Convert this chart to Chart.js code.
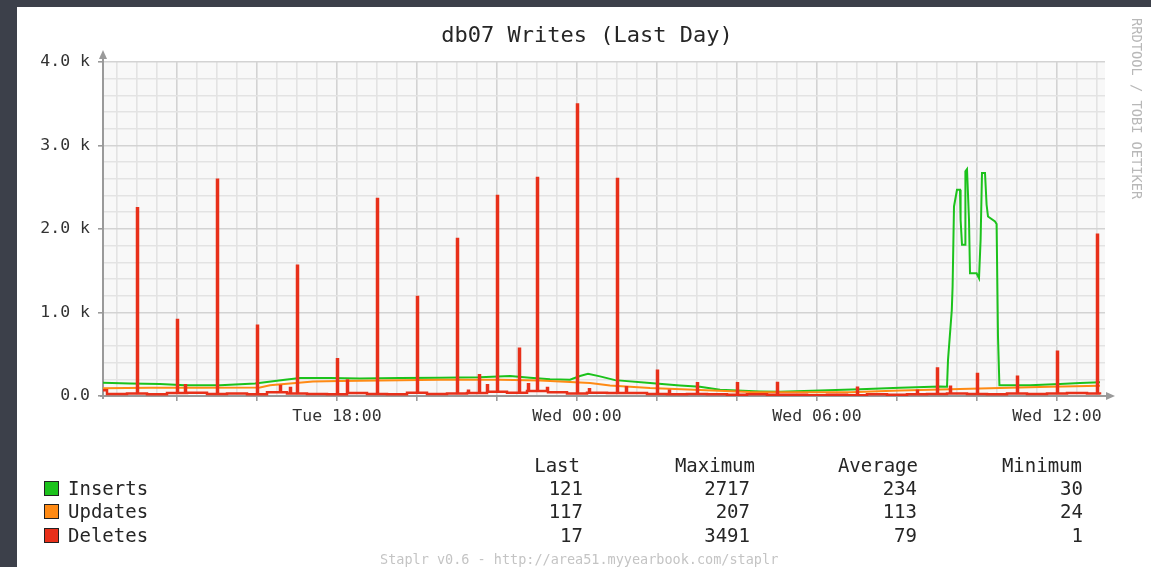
<!DOCTYPE html>
<html>
<head>
<meta charset="utf-8">
<script src="https://cdn.jsdelivr.net/npm/chart.js@4.4.1/dist/chart.umd.min.js"></script>
<style>
  html, body { margin: 0; padding: 0; width: 1151px; height: 567px; overflow: hidden; background: #3c404a; font-family: "DejaVu Sans Mono", monospace; }
  #panel { position: absolute; left: 17px; top: 7px; width: 1134px; height: 560px; background: #ffffff; }
  #chart { position: absolute; left: 0; top: 0; }
  .t { position: absolute; white-space: pre; color: #262626; font-family: "DejaVu Sans Mono", monospace; }
  #title { left: 0; top: 14px; width: 1140px; text-align: center; font-size: 22px; line-height: 28px; }
  .leg { font-size: 19px; line-height: 23px; }
  .r { text-align: right; }
  .sw { position: absolute; width: 13px; height: 13px; border: 1px solid #222; }
  #foot { left: 363px; top: 544px; font-size: 13.5px; line-height: 16px; color: #c4c4c4; }
  #wm { left: 1113px; top: 11px; font-size: 13.7px; line-height: 14px; color: #b8b8b8; writing-mode: vertical-rl; }
</style>
</head>
<body>
<div id="panel">
  <canvas id="chart" width="1134" height="560"></canvas>
  <div id="title" class="t">db07 Writes (Last Day)</div>
  <div id="legend"></div>
  <div id="foot" class="t">Staplr v0.6 - http://area51.myyearbook.com/staplr</div>
  <div id="wm" class="t">RRDTOOL / TOBI OETIKER</div>
</div>
<script>
// ---------- data (time in hours from Tue 00:00) ----------
const seriesNames  = ['Inserts', 'Updates', 'Deletes'];
const seriesColors = ['#1cc21c', '#ff8a14', '#e8301a'];
const statHeaders  = ['Last', 'Maximum', 'Average', 'Minimum'];
const statLast     = [121, 117, 17];
const statMaximum  = [2717, 207, 3491];
const statAverage  = [234, 113, 79];
const statMinimum  = [30, 24, 1];

const xTickValues = [18, 24, 30, 36];
const xTickLabels = ['Tue 18:00', 'Wed 00:00', 'Wed 06:00', 'Wed 12:00'];
const yTickValues = [0, 1000, 2000, 3000, 4000];
const yTickLabels = ['0.0', '1.0 k', '2.0 k', '3.0 k', '4.0 k'];

const insertTimes = [12.15, 12.825, 13.575, 14.2, 15.075, 15.95, 16.2, 16.7, 17.075, 17.825, 18.575, 19.575,
  20.575, 21.575, 22.325, 22.825, 23.325, 23.825, 24.075, 24.275, 24.575, 24.95, 25.825, 26.575, 27.075,
  27.575, 28.575, 29.075, 30.075, 31.075, 32.075, 33.075, 33.25, 33.275, 33.37, 33.39, 33.425, 33.5, 33.575,
  33.59, 33.625, 33.7, 33.71, 33.75, 33.8, 33.825, 33.99, 34.05, 34.09, 34.125, 34.2, 34.24, 34.275, 34.45,
  34.49, 34.525, 34.56, 35.325, 36.075, 36.575, 37.075];
const insertValues = [160, 150, 145, 130, 130, 150, 165, 195, 215, 215, 210, 215,
  220, 225, 240, 220, 200, 195, 240, 265, 235, 190, 155, 125, 110,
  75, 55, 50, 65, 80, 100, 115, 110, 430, 1030, 1310, 2270, 2470, 2470,
  2110, 1810, 1810, 2690, 2717, 2110, 1470, 1470, 1410, 1870, 2670, 2670, 2290, 2150, 2090,
  2060, 710, 130, 130, 145, 155, 165];

const updateTimes = [12.15, 13.325, 14.575, 16.075, 16.325, 16.825, 17.4, 18.075, 19.075, 20.575, 22.075,
  23.075, 23.575, 24.325, 24.825, 25.825, 27.075, 28.325, 29.075, 30.825, 32.075, 33.325, 34.575, 35.825, 37.075];
const updateValues = [92, 100, 100, 102, 128, 150, 175, 180, 185, 195, 195,
  185, 175, 155, 125, 95, 72, 48, 44, 46, 66, 82, 95, 110, 122];

const deleteBaseTimes = [12.15, 12.25, 12.75, 13.25, 13.75, 14.25, 14.75, 15.25, 15.75, 16.25, 16.75, 17.25,
  17.75, 18.25, 18.75, 19.25, 19.75, 20.25, 20.75, 21.25, 21.75, 22.25, 22.75, 23.25, 23.75, 24.25, 24.75,
  25.25, 25.75, 26.25, 26.75, 27.25, 27.75, 28.25, 28.75, 29.25, 29.75, 30.25, 30.75, 31.25, 31.75, 32.25,
  32.75, 33.25, 33.75, 34.25, 34.75, 35.25, 35.75, 36.25, 36.75, 37.075];
const deleteBaseValues = [70, 25, 30, 20, 35, 40, 25, 30, 20, 45, 30, 25,
  20, 35, 25, 20, 40, 25, 30, 35, 50, 40, 60, 45, 30, 40, 35,
  30, 25, 20, 25, 20, 15, 20, 15, 15, 10, 15, 10, 20, 15, 20,
  25, 30, 25, 20, 30, 25, 30, 35, 30, 17];

const deleteSpikeTimes = [13.0, 14.0, 14.2, 15.0, 16.0, 16.575, 16.825, 17.0, 18.0, 18.25, 19.0, 20.0, 21.0,
  21.275, 21.55, 21.75, 22.0, 22.55, 22.775, 23.0, 23.25, 24.0, 24.3, 25.0, 25.225, 26.0, 26.3, 27.0, 28.0,
  29.0, 31.0, 32.5, 33.0, 33.325, 34.0, 35.0, 36.0, 37.0];
const deleteSpikeValues = [2250, 910, 130, 2590, 840, 120, 95, 1560, 440, 185, 2360, 1185, 1880,
  64, 250, 130, 2395, 567, 140, 2610, 95, 3491, 80, 2600, 105, 303, 64, 152, 152,
  155, 100, 64, 330, 110, 263, 231, 530, 1930];
const spikeWidth = 1 / 40; // one pixel-wide sample (hours)

// ---------- build datasets ----------
const zipPts = (ts, vs) => ts.map((t, i) => ({ x: t, y: vs[i] }));
function buildDeletes() {
  const pts = zipPts(deleteBaseTimes, deleteBaseValues);
  const baseAt = t => {
    let v = deleteBaseValues[0];
    for (let i = 0; i < deleteBaseTimes.length; i++) if (deleteBaseTimes[i] <= t) v = deleteBaseValues[i];
    return v;
  };
  deleteSpikeTimes.forEach((t, i) => {
    pts.push({ x: t, y: deleteSpikeValues[i] });
    pts.push({ x: t + spikeWidth, y: baseAt(t) });
  });
  pts.sort((a, b) => a.x - b.x);
  return pts;
}

// ---------- legend (HTML text) ----------
(function () {
  const L = document.getElementById('legend');
  const rowsY = [470, 493, 517];
  const add = (txt, cls, style) => {
    const d = document.createElement('div');
    d.className = 't leg ' + (cls || '');
    d.textContent = txt;
    Object.assign(d.style, style);
    L.appendChild(d);
  };
  const hdrRight = [563, 738, 901, 1065];
  const valRight = [566, 733, 900, 1066];
  statHeaders.forEach((h, i) => add(h, 'r', { right: (1134 - hdrRight[i]) + 'px', top: '447px' }));
  const stats = [statLast, statMaximum, statAverage, statMinimum];
  seriesNames.forEach((n, r) => {
    const sw = document.createElement('div');
    sw.className = 'sw';
    sw.style.left = '27px';
    sw.style.top = (rowsY[r] + 4) + 'px';
    sw.style.background = seriesColors[r];
    L.appendChild(sw);
    add(n, '', { left: '51px', top: rowsY[r] + 'px' });
    stats.forEach((s, c) => add(String(s[r]), 'r', { right: (1134 - valRight[c]) + 'px', top: rowsY[r] + 'px' }));
  });
})();

// ---------- chart ----------
const AXIS = '#9a9a9a';
const rrdPlugin = {
  id: 'rrd',
  beforeDraw(chart) {
    const { ctx, chartArea: a } = chart;
    ctx.save();
    ctx.fillStyle = '#f8f8f8';
    ctx.fillRect(a.left, a.top, a.right - a.left, a.bottom - a.top);
    ctx.restore();
  },
  beforeDatasetsDraw(chart) {
    const { ctx, chartArea: a } = chart;
    ctx.save();
    ctx.strokeStyle = AXIS; ctx.fillStyle = AXIS; ctx.lineWidth = 2;
    ctx.beginPath();
    ctx.moveTo(a.left, a.bottom + 3); ctx.lineTo(a.left, a.top - 4);
    ctx.moveTo(a.left - 3, a.bottom); ctx.lineTo(a.right + 3, a.bottom);
    ctx.stroke();
    ctx.beginPath();
    ctx.moveTo(a.left - 4, a.top - 3); ctx.lineTo(a.left + 4, a.top - 3); ctx.lineTo(a.left, a.top - 12);
    ctx.closePath(); ctx.fill();
    ctx.beginPath();
    ctx.moveTo(a.right + 1, a.bottom - 4); ctx.lineTo(a.right + 1, a.bottom + 4); ctx.lineTo(a.right + 10, a.bottom);
    ctx.closePath(); ctx.fill();
    ctx.restore();
  }
};

const tickFont = { family: 'DejaVu Sans Mono', size: 16.5 };
new Chart(document.getElementById('chart'), {
  type: 'line',
  data: {
    datasets: [
      { label: seriesNames[2], data: buildDeletes(), borderColor: seriesColors[2], borderWidth: 2.5, stepped: true, order: 0 },
      { label: seriesNames[1], data: zipPts(updateTimes, updateValues), borderColor: seriesColors[1], borderWidth: 2, order: 1 },
      { label: seriesNames[0], data: zipPts(insertTimes, insertValues), borderColor: seriesColors[0], borderWidth: 2, order: 2 }
    ]
  },
  options: {
    responsive: false,
    animation: false,
    events: [],
    parsing: false,
    normalized: true,
    elements: { point: { radius: 0 }, line: { tension: 0, fill: false } },
    layout: { padding: { left: 0, right: 46, top: 55, bottom: 141 } },
    plugins: { legend: { display: false }, title: { display: false }, tooltip: { enabled: false } },
    scales: {
      x: {
        type: 'linear',
        min: 12.15,
        max: 37.2,
        afterBuildTicks: s => {
          const t = [];
          for (let k = 25; k <= 74; k++) t.push({ value: k / 2 });
          s.ticks = t;
        },
        afterFit: s => { s.height = 30; },
        border: { display: false },
        grid: {
          lineWidth: 1.6,
          color: c => (c.tick && c.tick.value % 2 === 0) ? '#d3d3d3' : '#e3e3e3',
          tickColor: c => (c.tick && c.tick.value % 2 === 0) ? AXIS : 'rgba(0,0,0,0)',
          tickLength: 5
        },
        ticks: {
          autoSkip: false,
          maxRotation: 0,
          padding: 6,
          color: '#333',
          font: tickFont,
          callback: v => { const i = xTickValues.indexOf(v); return i >= 0 ? xTickLabels[i] : ''; }
        }
      },
      y: {
        min: 0,
        max: 4000,
        afterFit: s => { s.width = 86; },
        border: { display: false },
        grid: {
          lineWidth: 1.6,
          color: c => (c.tick && c.tick.value % 1000 === 0) ? '#d3d3d3' : '#e3e3e3',
          tickColor: c => (c.tick && c.tick.value % 1000 === 0) ? AXIS : 'rgba(0,0,0,0)',
          tickLength: 5
        },
        ticks: {
          stepSize: 200,
          autoSkip: false,
          padding: 8,
          color: '#333',
          font: tickFont,
          callback: v => { const i = yTickValues.indexOf(v); return i >= 0 ? yTickLabels[i] : ''; }
        }
      }
    }
  },
  plugins: [rrdPlugin]
});
</script>
</body>
</html>
